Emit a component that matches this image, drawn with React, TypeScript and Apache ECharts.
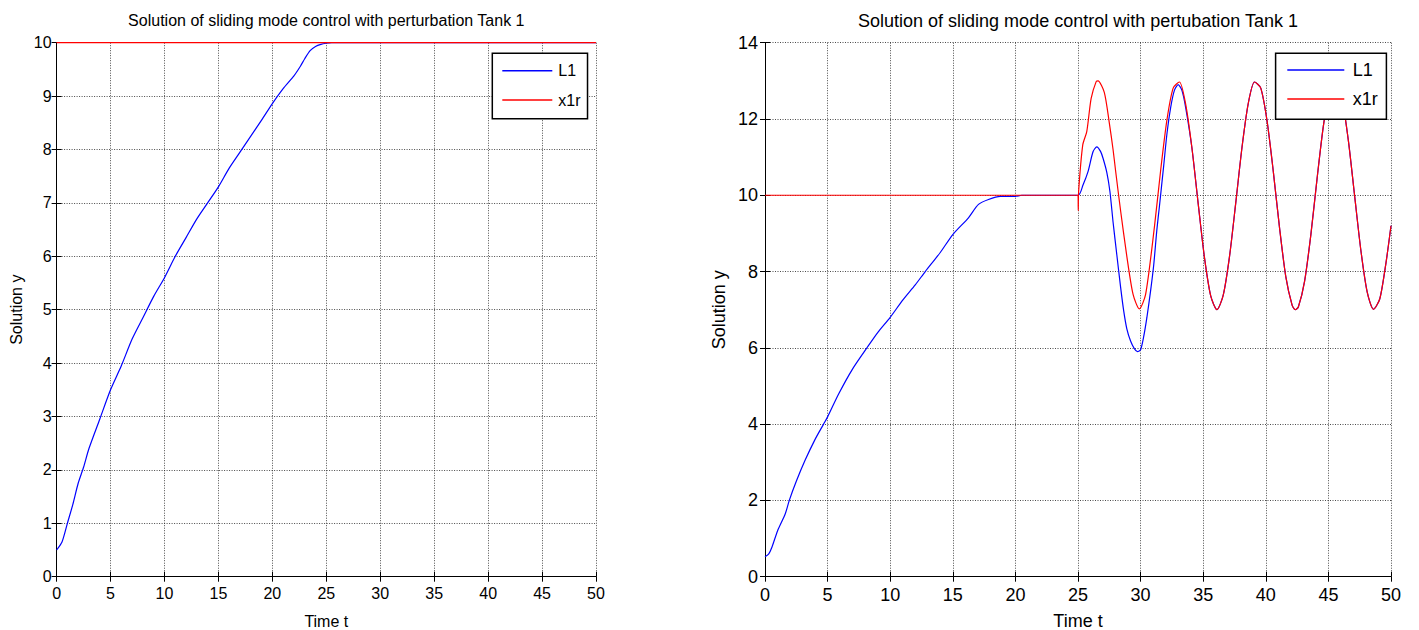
import React, { useEffect, useRef } from "react";
import * as echarts from "echarts";

const W = 1419;
const H = 630;
const FONT = '"Liberation Sans", Arial, sans-serif';

// ---------- Left plot data ----------
const leftT = [0, 0.5, 1, 1.5, 2, 2.5, 3, 4, 5, 6, 7, 8, 9, 10, 11, 12, 13, 14, 15, 16, 17, 18, 19, 20, 21, 22, 22.6, 23, 23.5, 24, 24.5, 25, 25.5, 50];
const leftL1 = [0.5, 0.65, 1.0, 1.35, 1.75, 2.05, 2.4, 2.95, 3.5, 3.95, 4.45, 4.85, 5.25, 5.6, 6.0, 6.35, 6.7, 7.0, 7.3, 7.65, 7.95, 8.25, 8.55, 8.86, 9.14, 9.38, 9.56, 9.7, 9.85, 9.93, 9.97, 9.99, 10, 10];
const leftX1rT = [0, 50];
const leftX1r = [10, 10];

// ---------- Right plot data ----------
const rightL1RiseT = [0, 0.3, 0.56, 1.0, 1.62, 1.94, 2.5, 3.2, 4, 4.68, 5, 5.88, 7, 8.14, 9, 10, 11, 12, 12.8, 14, 15, 16.25, 17.05, 17.85, 18.8, 20, 20.5, 25];
const rightL1Rise = [0.52, 0.6, 0.78, 1.2, 1.65, 2.0, 2.5, 3.05, 3.6, 4.0, 4.19, 4.79, 5.45, 6.0, 6.4, 6.8, 7.25, 7.65, 8.0, 8.5, 8.97, 9.41, 9.76, 9.89, 9.97, 9.97, 10, 10];
const rightL1TransT = [25.4, 25.8, 26.2, 26.5, 26.8, 27.0, 27.3, 27.55, 27.8, 28.1, 28.4, 28.65, 28.9, 29.2, 29.5, 29.75, 30.0, 30.25, 30.5, 30.8, 31.05, 31.3, 31.5, 31.85, 32.1, 32.4, 32.7, 33.0, 33.3, 33.6];
const rightL1Trans = [10.27, 10.62, 11.14, 11.27, 11.15, 10.97, 10.6, 10.1, 9.3, 8.44, 7.6, 6.97, 6.5, 6.18, 5.98, 5.9, 5.95, 6.3, 6.79, 7.5, 8.18, 9.1, 9.7, 10.79, 11.6, 12.3, 12.75, 12.9, 12.75, 12.3];

const rightX1rT = [0, 25, 25.02, 25.05, 25.38, 25.7, 26.05, 26.45, 26.6, 27.1, 27.5, 27.8, 28.0, 28.4, 28.9, 29.4, 29.9, 30.4, 31.1, 31.6, 32.1, 32.6, 33.1, 33.6, 34.1, 34.6, 35.1, 35.6, 36.1, 36.6, 37.1, 37.6, 38.1, 38.6, 39.1, 39.6, 40.1, 40.6, 41.1, 41.6, 42.1, 42.35, 42.6, 43.1, 43.6, 44.1, 44.6, 45.1, 45.6, 46.1, 46.6, 47.1, 47.6, 48.1, 48.6, 49.1, 49.6, 50];
const rightX1r = [10, 10, 9.6, 10.1, 11.32, 11.67, 12.54, 12.98, 13.0, 12.7, 11.9, 11.2, 10.65, 9.6, 8.4, 7.4, 7.02, 7.4, 9.16, 10.65, 11.97, 12.81, 12.97, 12.39, 11.24, 9.78, 8.37, 7.36, 7.0, 7.38, 8.39, 9.8, 11.26, 12.41, 12.97, 12.81, 11.95, 10.62, 9.14, 7.86, 7.12, 7.0, 7.07, 7.75, 8.97, 10.45, 11.82, 12.74, 12.99, 12.51, 11.42, 9.97, 8.54, 7.46, 7.01, 7.28, 8.23, 9.2];

const xTicks = { min: 0, max: 50, interval: 5 };

const pairs = (t: number[], v: number[]) => t.map((x, i) => [x, v[i]]);

const leftL1Data = pairs(leftT, leftL1);
const leftX1rData = pairs(leftX1rT, leftX1r);
const rightX1rData = pairs(rightX1rT, rightX1r);
const rightL1Data = [
  ...pairs(rightL1RiseT, rightL1Rise),
  ...pairs(rightL1TransT, rightL1Trans),
  ...rightX1rData.filter((p) => p[0] > 34),
];

function buildOption() {
  const grids = [
    { left: 56.6, top: 42.7, width: 539.4, height: 534, fs: 16, ym: 5, yMax: 10, yInt: 1 },
    { left: 765, top: 42.7, width: 626, height: 534, fs: 18, ym: 7, yMax: 14, yInt: 2 },
  ];
  const split = { show: true, lineStyle: { color: "#222", type: [1, 1.5] as any, width: 0.9, opacity: 0.9 } };
  const tick = { show: true, inside: true, length: 5, lineStyle: { color: "#000", width: 1 } };
  const xAxis: any[] = [];
  const yAxis: any[] = [];
  grids.forEach((g, gi) => {
    xAxis.push({
      type: "value", gridIndex: gi, ...xTicks, position: "bottom",
      axisLine: { show: true, onZero: false, lineStyle: { color: "#000", width: 1 } },
      axisTick: tick,
      axisLabel: { color: "#000", fontSize: g.fs, fontFamily: FONT, margin: 9 },
      splitLine: split,
    });
    xAxis.push({
      type: "value", gridIndex: gi, ...xTicks, position: "top",
      axisLine: { show: false }, axisTick: tick, axisLabel: { show: false }, splitLine: { show: false },
    });
    yAxis.push({
      type: "value", gridIndex: gi, min: 0, max: g.yMax, interval: g.yInt, position: "left",
      axisLine: { show: true, onZero: false, lineStyle: { color: "#000", width: 1 } },
      axisTick: tick,
      axisLabel: { color: "#000", fontSize: g.fs, fontFamily: FONT, margin: g.ym },
      splitLine: split,
    });
    yAxis.push({
      type: "value", gridIndex: gi, min: 0, max: g.yMax, interval: g.yInt, position: "right",
      axisLine: { show: false }, axisTick: tick, axisLabel: { show: false }, splitLine: { show: false },
    });
  });

  const line = (name: string, color: string, data: any, xi: number, yi: number) => ({
    name, type: "line", xAxisIndex: xi, yAxisIndex: yi, data, showSymbol: false, symbol: "none",
    smooth: 0.25,
    color, lineStyle: { color, width: 1.2 }, silent: true,
  });

  const legendBase = {
    orient: "vertical", data: ["L1", "x1r"], icon: "rect", selectedMode: false,
    borderColor: "#000", backgroundColor: "#fff", borderWidth: 1.5, itemHeight: 1.5,
  };

  return {
    animation: false,
    backgroundColor: "#fff",
    grid: grids.map((g) => ({ left: g.left, top: g.top, width: g.width, height: g.height, containLabel: false })),
    xAxis,
    yAxis,
    legend: [
      {
        ...legendBase, left: 492.3, top: 53.3, itemWidth: 50, itemGap: 13.3,
        padding: [9.4, 7, 10.7, 10],
        textStyle: { fontSize: 16, lineHeight: 16, fontFamily: FONT, color: "#000", padding: [0, 0, 0, 1] },
      },
      {
        ...legendBase, left: 1275.6, top: 53.3, itemWidth: 57, itemGap: 11,
        padding: [7.7, 8.6, 11.3, 11.7],
        textStyle: { fontSize: 18, lineHeight: 18, fontFamily: FONT, color: "#000", padding: [0, 0, 0, 3.5] },
      },
    ],
    series: [
      line("L1", "#0000ff", leftL1Data, 0, 0),
      line("x1r", "#ff0000", leftX1rData, 0, 0),
      line("L1", "#0000ff", rightL1Data, 2, 2),
      line("x1r", "#ff0000", rightX1rData, 2, 2),
    ],
    graphic: [
      { type: "text", x: 326.3, y: 20.5, style: { text: "Solution of sliding mode control with perturbation Tank 1", fontSize: 16, fontFamily: FONT, fill: "#000", textAlign: "center", textVerticalAlign: "middle" } },
      { type: "text", x: 1078, y: 20.5, style: { text: "Solution of sliding mode control with pertubation Tank 1", fontSize: 18, fontFamily: FONT, fill: "#000", textAlign: "center", textVerticalAlign: "middle" } },
      { type: "text", x: 326.3, y: 621, style: { text: "Time t", fontSize: 16, fontFamily: FONT, fill: "#000", textAlign: "center", textVerticalAlign: "middle" } },
      { type: "text", x: 1078, y: 621, style: { text: "Time t", fontSize: 18, fontFamily: FONT, fill: "#000", textAlign: "center", textVerticalAlign: "middle" } },
      { type: "text", x: 16, y: 309.7, rotation: Math.PI / 2, style: { text: "Solution y", fontSize: 16, fontFamily: FONT, fill: "#000", textAlign: "center", textVerticalAlign: "middle" } },
      { type: "text", x: 719, y: 309.7, rotation: Math.PI / 2, style: { text: "Solution y", fontSize: 18, fontFamily: FONT, fill: "#000", textAlign: "center", textVerticalAlign: "middle" } },
    ],
  };
}

export default function App() {
  const ref = useRef<HTMLDivElement>(null);
  useEffect(() => {
    if (!ref.current) return;
    const chart = echarts.init(ref.current, null, { renderer: "svg", width: W, height: H });
    chart.setOption(buildOption() as any);
    return () => chart.dispose();
  }, []);
  return (
    <div
      ref={ref}
      style={{ position: "absolute", left: 0, top: 0, width: W, height: H, background: "#fff" }}
    />
  );
}
